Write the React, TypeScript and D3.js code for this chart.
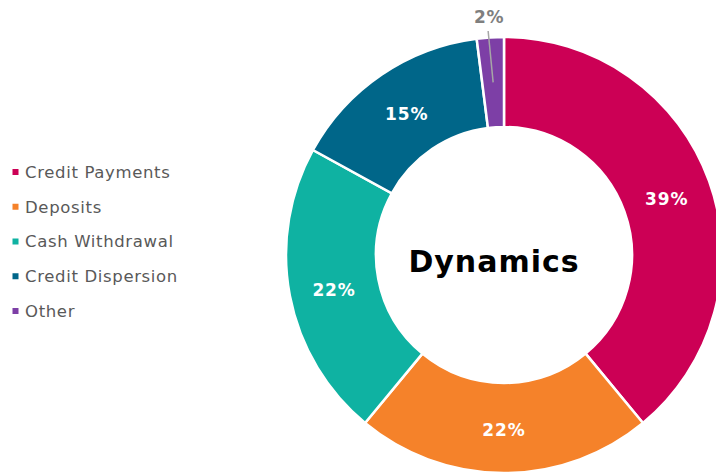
import React from "react";
import * as d3 from "d3";

const categories = ["Credit Payments", "Deposits", "Cash Withdrawal", "Credit Dispersion", "Other"];
const values = [39, 22, 22, 15, 2];
const colors = ["#CC0055", "#F5822A", "#0FB2A2", "#006689", "#7D3FA6"];
const centerTitle = "Dynamics";

type Slice = { name: string; value: number; color: string };

const slices: Slice[] = categories.map((name, i) => ({ name, value: values[i], color: colors[i] }));

export default function App() {
    const width = 716;
    const height = 474;
    const cx = 504;
    const cy = 255;
    const outerR = 218;
    const innerR = 128;

    const pie = d3.pie<Slice>().sort(null).value(d => d.value);
    const arc = d3.arc<d3.PieArcDatum<Slice>>().innerRadius(innerR).outerRadius(outerR);
    const arcs = pie(slices);
    const total = d3.sum(values);

    const legendY = d3.scalePoint<string>().domain(categories).range([172, 311]);

    return (
        <svg
            width={width}
            height={height}
            style={{ position: "absolute", left: 0, top: 0, fontFamily: "'DejaVu Sans', Verdana, sans-serif" }}
        >
            <rect width={width} height={height} fill="#fff" />
            <g transform={`translate(${cx},${cy})`}>
                {arcs.map((d, i) => (
                    <path key={i} d={arc(d) ?? ""} fill={d.data.color} stroke="#fff" strokeWidth={2.5} />
                ))}
                {arcs.map((d, i) => {
                    const pct = `${Math.round((d.data.value / total) * 100)}%`;
                    const [x, y] = arc.centroid(d);
                    if (d.data.value / total < 0.05) {
                        // small slice: label outside with a leader line
                        const lx = x - 5;
                        const ly = -224;
                        return (
                            <g key={"l" + i}>
                                <line x1={x} y1={y} x2={lx} y2={ly} stroke="#A6A6A6" strokeWidth={1.5} />
                                <text x={lx + 1} y={ly - 8} textAnchor="middle" fontSize={17} fontWeight="bold" fill="#7F7F7F" letterSpacing={0.8}>
                                    {pct}
                                </text>
                            </g>
                        );
                    }
                    return (
                        <text key={"l" + i} x={x} y={y + 2} dy="0.36em" textAnchor="middle" fontSize={17} fontWeight="bold" fill="#fff" letterSpacing={0.9}>
                            {pct}
                        </text>
                    );
                })}
                <text x={-10} y={17} textAnchor="middle" fontSize={30} fontWeight="bold" fill="#000" letterSpacing={1}>
                    {centerTitle}
                </text>
            </g>
            <g>
                {categories.map((c, i) => (
                    <g key={c} transform={`translate(0,${legendY(c)})`}>
                        <rect x={12.5} y={-3} width={6} height={6} fill={colors[i]} />
                        <text x={25} y={0} dy="0.36em" fontSize={16.5} fill="#595959" letterSpacing={0.65}>
                            {c}
                        </text>
                    </g>
                ))}
            </g>
        </svg>
    );
}
